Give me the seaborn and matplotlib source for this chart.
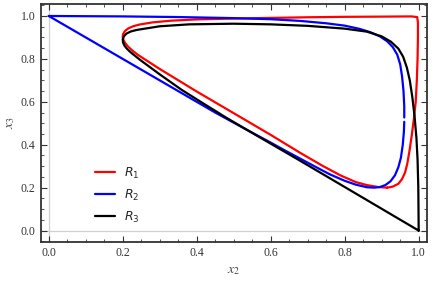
import numpy as np
import pandas as pd
import seaborn as sns
import matplotlib
matplotlib.use("Agg")
import matplotlib.pyplot as plt
from matplotlib.ticker import MultipleLocator
from matplotlib.font_manager import FontProperties

# curve points (x2, x3)
red_x = [0.915, 0.930, 0.945, 0.955, 0.963, 0.969, 0.975, 0.981, 0.987, 0.992, 0.995, 0.997,
         0.998, 0.998, 0.996, 0.980, 0.900, 0.800, 0.700, 0.600, 0.500, 0.400, 0.330, 0.280,
         0.245, 0.228, 0.215, 0.206, 0.201, 0.200, 0.202, 0.207, 0.214, 0.224, 0.240, 0.274,
         0.301, 0.400, 0.500, 0.600, 0.680, 0.740, 0.790, 0.830, 0.860, 0.890, 0.915]
red_y = [0.200, 0.205, 0.218, 0.240, 0.270, 0.310, 0.370, 0.440, 0.520, 0.600, 0.700, 0.800,
         0.900, 0.970, 0.995, 0.998, 0.997, 0.996, 0.994, 0.991, 0.988, 0.984, 0.978, 0.970,
         0.960, 0.952, 0.942, 0.930, 0.916, 0.902, 0.888, 0.873, 0.858, 0.842, 0.820, 0.782,
         0.752, 0.648, 0.547, 0.446, 0.362, 0.302, 0.256, 0.226, 0.212, 0.203, 0.200]

# blue is drawn in two pieces (small gap near x3 = 0.52)
blue_a_x = [0.000, 0.200, 0.350, 0.500, 0.600, 0.680, 0.750, 0.800, 0.840, 0.870, 0.895,
            0.915, 0.930, 0.942, 0.950, 0.955, 0.959, 0.961, 0.961]
blue_a_y = [1.000, 0.998, 0.995, 0.990, 0.985, 0.977, 0.966, 0.955, 0.940, 0.924, 0.905,
            0.882, 0.855, 0.820, 0.775, 0.720, 0.650, 0.580, 0.527]
blue_b_x = [0.961, 0.960, 0.957, 0.952, 0.945, 0.936, 0.924, 0.910, 0.895, 0.880, 0.860,
            0.830, 0.800, 0.760, 0.720, 0.680, 0.640, 0.600, 0.560, 0.520, 0.450, 0.000]
blue_b_y = [0.507, 0.460, 0.400, 0.340, 0.295, 0.258, 0.230, 0.212, 0.203, 0.200, 0.202,
            0.214, 0.232, 0.262, 0.298, 0.335, 0.372, 0.410, 0.447, 0.484, 0.550, 1.000]

black_x = [1.000, 0.680, 0.550, 0.480, 0.420, 0.360, 0.300, 0.274, 0.245, 0.222, 0.212,
           0.205, 0.201, 0.200, 0.203, 0.210, 0.222, 0.238, 0.300, 0.380, 0.500, 0.600,
           0.700, 0.800, 0.860, 0.900, 0.925, 0.945, 0.958, 0.968, 0.976, 0.983, 0.989,
           0.994, 0.997, 0.999, 1.000]
black_y = [0.000, 0.325, 0.455, 0.526, 0.590, 0.655, 0.728, 0.761, 0.798, 0.830, 0.846,
           0.861, 0.876, 0.891, 0.905, 0.918, 0.928, 0.935, 0.952, 0.961, 0.964, 0.961,
           0.954, 0.941, 0.927, 0.905, 0.880, 0.848, 0.810, 0.760, 0.700, 0.620, 0.530,
           0.430, 0.330, 0.200, 0.000]

sns.set_style("ticks")
plt.rcParams["font.family"] = ["Liberation Serif", "DejaVu Serif"]
plt.rcParams["mathtext.fontset"] = "stix"

fig = plt.figure(figsize=(4.32, 2.83), dpi=100)
ax = fig.add_axes([0.094, 0.145, 0.894, 0.841])

ax.axhline(0, color="#d0d0d0", lw=0.9, zorder=0)
ax.axvline(0, color="#d0d0d0", lw=0.9, zorder=0)

lw = 1.6
sns.lineplot(x=red_x, y=red_y, sort=False, estimator=None, color="#ff0000", lw=lw, ax=ax, label=r"$R_1$")
sns.lineplot(x=blue_a_x, y=blue_a_y, sort=False, estimator=None, color="#0000ff", lw=lw, ax=ax, label=r"$R_2$")
sns.lineplot(x=blue_b_x, y=blue_b_y, sort=False, estimator=None, color="#0000ff", lw=lw, ax=ax)
sns.lineplot(x=black_x, y=black_y, sort=False, estimator=None, color="#000000", lw=lw, ax=ax, label=r"$R_3$")

ax.set_xlim(-0.022, 1.022)
ax.set_ylim(-0.053, 1.056)
ax.xaxis.set_major_locator(MultipleLocator(0.2))
ax.yaxis.set_major_locator(MultipleLocator(0.2))
ax.xaxis.set_minor_locator(MultipleLocator(0.05))
ax.yaxis.set_minor_locator(MultipleLocator(0.05))
ax.xaxis.set_major_formatter(lambda v, p: f"{v:.1f}")
ax.yaxis.set_major_formatter(lambda v, p: f"{v:.1f}")
ax.tick_params(which="both", direction="in", top=True, right=True, colors="#333333",
               labelcolor="#333333", labelsize=8.5)
ax.tick_params(which="major", length=4, width=0.8)
ax.tick_params(which="minor", length=2, width=0.6)
for s in ax.spines.values():
    s.set_color("#333333")
    s.set_linewidth(1.3)

ax.set_xlabel(r"$x_2$", fontsize=10, color="#444444", labelpad=4)
ax.set_ylabel(r"$x_3$", fontsize=10, color="#444444", labelpad=3)

leg_prop = FontProperties(family="DejaVu Sans", size=9, math_fontfamily="dejavusans")
ax.legend(loc="center left", bbox_to_anchor=(0.113, 0.197), frameon=False, prop=leg_prop,
          handlelength=1.6, labelspacing=0.55, handletextpad=0.7)

fig.savefig("out.png", dpi=100)
